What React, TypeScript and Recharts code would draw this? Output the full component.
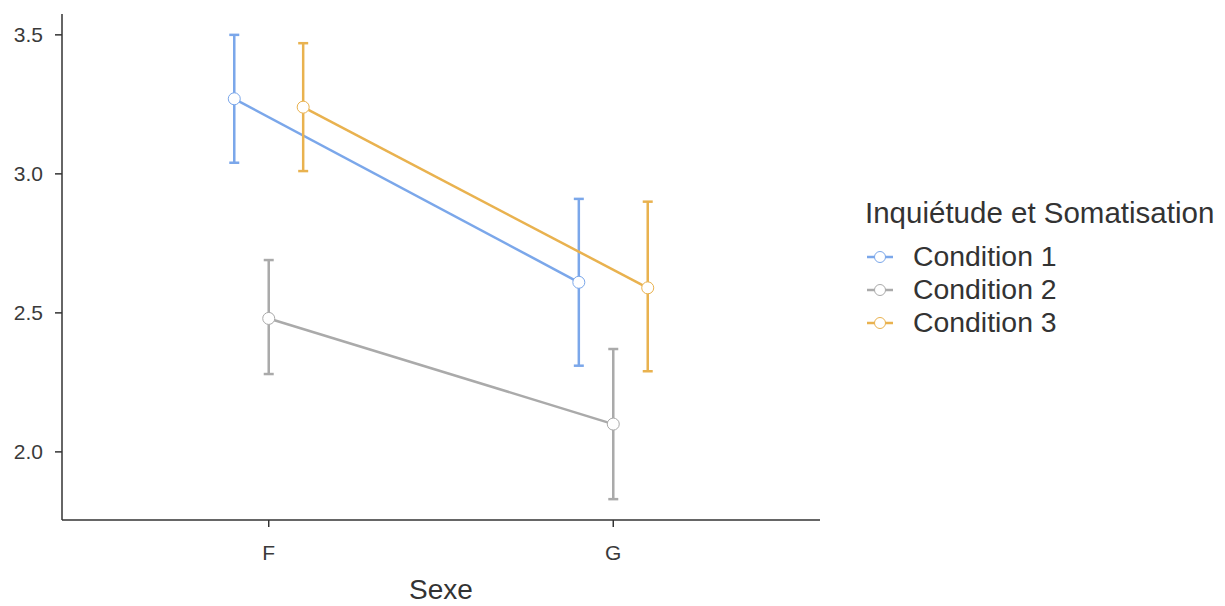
import { LineChart, Line, XAxis, YAxis, ErrorBar } from 'recharts';

const categories = ['F', 'G'];
const seriesNames = ['Condition 1', 'Condition 2', 'Condition 3'];

const cond1Mean = [3.27, 2.61];
const cond1Low = [3.04, 2.31];
const cond1High = [3.5, 2.91];

const cond2Mean = [2.48, 2.1];
const cond2Low = [2.28, 1.83];
const cond2High = [2.69, 2.37];

const cond3Mean = [3.24, 2.59];
const cond3Low = [3.01, 2.29];
const cond3High = [3.47, 2.9];

const yTicks = [2.0, 2.5, 3.0, 3.5];

const colors = ['#7ba7ea', '#aaaaaa', '#e9b24f'];
const DODGE = 0.1;
const FONT = '"Liberation Sans", Arial, sans-serif';

function buildSeries(mean: number[], low: number[], high: number[], idx: number) {
  return categories.map((c, i) => ({
    x: i + 1 + (idx - 1) * DODGE,
    cat: c,
    y: mean[i],
    err: [mean[i] - low[i], high[i] - mean[i]],
  }));
}

const series = [
  buildSeries(cond1Mean, cond1Low, cond1High, 0),
  buildSeries(cond2Mean, cond2Low, cond2High, 1),
  buildSeries(cond3Mean, cond3Low, cond3High, 2),
];

function LegendBox() {
  return (
    <div style={{ position: 'absolute', left: 857, top: 189, fontFamily: FONT, color: '#333' }}>
      <div style={{ fontSize: 29.5, lineHeight: '32px', marginBottom: 11, whiteSpace: 'nowrap' }}>
        Inquiétude et Somatisation
      </div>
      {seriesNames.map((n, i) => (
        <div key={n} style={{ display: 'flex', alignItems: 'center', height: 33 }}>
          <svg width={30} height={16} style={{ marginRight: 18 }}>
            <line x1={2} y1={8} x2={28} y2={8} stroke={colors[i]} strokeWidth={2.5} />
            <circle cx={15} cy={8} r={5.5} fill="#fff" stroke={colors[i]} strokeWidth={1} />
          </svg>
          <span style={{ fontSize: 28.4, whiteSpace: 'nowrap' }}>{n}</span>
        </div>
      ))}
    </div>
  );
}

export default function App() {
  return (
    <div style={{ position: 'relative', width: 1217, height: 606 }}>
      <LineChart
        width={1217}
        height={606}
        margin={{ top: 6, right: 405, bottom: 34, left: 10 }}
      >
        <XAxis
          type="number"
          dataKey="x"
          domain={[0.4, 2.6]}
          ticks={[1, 2]}
          tickFormatter={(v: number) => categories[Math.round(v) - 1]}
          height={60}
          axisLine={{ stroke: '#333', strokeWidth: 1.5 }}
          tickLine={{ stroke: '#333', strokeWidth: 1.5 }}
          tickSize={7}
          tickMargin={18}
          tick={{ fill: '#3a3a3a', fontSize: 21, fontFamily: FONT }}
          label={{ value: 'Sexe', position: 'insideBottom', offset: -19, fill: '#333', fontSize: 28, fontFamily: FONT }}
        />
        <YAxis
          type="number"
          domain={[1.755, 3.575]}
          ticks={yTicks}
          tickFormatter={(v: number) => v.toFixed(1)}
          width={44}
          axisLine={{ stroke: '#333', strokeWidth: 1.5 }}
          tickLine={{ stroke: '#333', strokeWidth: 1.5 }}
          tickSize={7}
          tickMargin={12}
          tick={{ fill: '#3a3a3a', fontSize: 21, fontFamily: FONT }}
        />
        {series.map((d, i) => (
          <Line
            key={seriesNames[i]}
            data={d}
            dataKey="y"
            name={seriesNames[i]}
            type="linear"
            stroke={colors[i]}
            strokeWidth={2.5}
            dot={{ r: 6, fill: '#fff', stroke: colors[i], strokeWidth: 1 }}
            activeDot={false}
            isAnimationActive={false}
          >
            <ErrorBar dataKey="err" direction="y" width={5} stroke={colors[i]} strokeWidth={2.5} />
          </Line>
        ))}
      </LineChart>
      <LegendBox />
    </div>
  );
}
